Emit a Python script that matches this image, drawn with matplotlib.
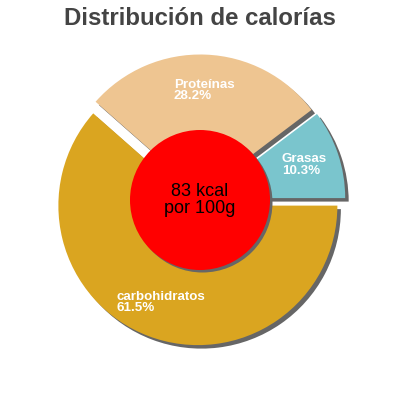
import matplotlib
matplotlib.use("Agg")
import matplotlib.pyplot as plt
from matplotlib.patches import Circle

plt.rcParams['font.family'] = ['Liberation Sans', 'DejaVu Sans']

categories = ["Grasas", "Proteínas", "carbohidratos"]
percents = [10.3, 28.2, 61.5]
colors = ["#7AC5CD", "#EEC591", "#DAA520"]
title = "Distribución de calorías"
center_text = "83 kcal\npor 100g"

fig = plt.figure(figsize=(4, 4), dpi=100)
ax = fig.add_axes([0, 0, 1, 1])

cx, cy, R = 200, 200, 139.5
expl = [6, 6, 6]
sh = 3.5

# shadows
ax.pie(percents, colors=["#666666"] * 3, startangle=0, counterclock=True,
       radius=R, center=(cx + sh, cy - sh), explode=expl,
       wedgeprops=dict(linewidth=0))
labels = [f"{c}\n{p}%" for c, p in zip(categories, percents)]
wedges, texts = ax.pie(percents, colors=colors, startangle=0, counterclock=True,
                       radius=R, center=(cx, cy), explode=expl,
                       labels=labels, labeldistance=0.745,
                       wedgeprops=dict(linewidth=0),
                       textprops=dict(color="white", fontsize=9.6, fontweight="bold"))
for t in texts:
    t.set_ha("center")
    t.set_va("center")
    t.set_multialignment("left")
    t.set_linespacing(0.9)

ax.add_patch(Circle((cx + 2.5, cy - 2.5), 70, color="#666666", lw=0, zorder=3))
ax.add_patch(Circle((cx, cy), 70, color="#FF0000", lw=0, zorder=4))
ax.text(cx, cy, center_text, ha="center", va="center", fontsize=13,
        color="black", linespacing=1.0, zorder=5)

ax.text(200, 375, title, ha="center", va="baseline", fontsize=17.3,
        fontweight="bold", color="#444444")

ax.set_xlim(0, 400)
ax.set_ylim(0, 400)
ax.set_aspect("equal")
ax.axis("off")
fig.savefig("out.png", dpi=100)
